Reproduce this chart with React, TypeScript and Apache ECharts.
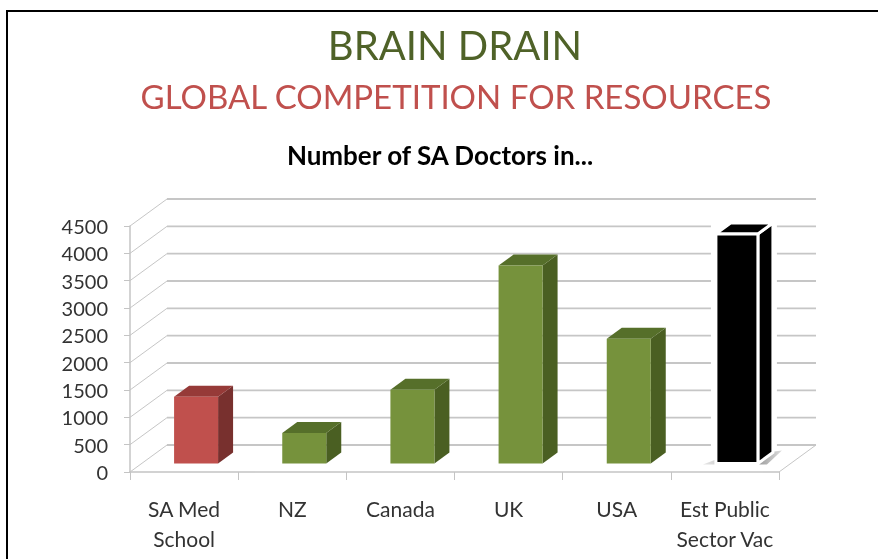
import React, { useEffect, useRef } from "react";
import * as echarts from "echarts";

const categories = ["SA Med\nSchool", "NZ", "Canada", "UK", "USA", "Est Public\nSector Vac"];
const doctorCounts = [1220, 560, 1350, 3620, 2280, 4200];
const faceColors = ["#c0504d", "#76923c", "#76923c", "#76923c", "#76923c", "#000000"];
const topColors = ["#963a38", "#566f2a", "#566f2a", "#566f2a", "#566f2a", "#000000"];
const sideColors = ["#78302e", "#4a5f22", "#4a5f22", "#4a5f22", "#4a5f22", "#000000"];
const gridValues = [0, 500, 1000, 1500, 2000, 2500, 3000, 3500, 4000, 4500];

const FONT = "Lato";
const WALL_DX = 37;
const WALL_DY = -27;
const BAR_HALF = 22;
const BAR_DX = 15;
const BAR_DY = -11;
const BAR_SHIFT_X = 12;
const BAR_SHIFT_Y = -8.5;
const GRID_COLOR = "#c6c6c6";

export default function App() {
  const ref = useRef<HTMLDivElement>(null);
  useEffect(() => {
    const chart = echarts.init(ref.current!, null, { renderer: "svg" });
    chart.setOption({
      animation: false,
      backgroundColor: "#ffffff",
      title: [
        { text: "BRAIN DRAIN", left: 450, top: 20, textAlign: "center", textStyle: { fontFamily: FONT, fontSize: 40, fontWeight: 400, color: "#4f6228" } },
        { text: "GLOBAL COMPETITION FOR RESOURCES", left: 451, top: 74, textAlign: "center", textStyle: { fontFamily: FONT, fontSize: 33, fontWeight: 400, color: "#c0504d" } },
        { text: "Number of SA Doctors in...", left: 435, top: 137, textAlign: "center", textStyle: { fontFamily: FONT, fontSize: 26, fontWeight: 700, color: "#000000" } },
      ],
      grid: { left: 130, right: 99, top: 226, bottom: 87 },
      xAxis: {
        type: "category",
        data: categories,
        axisLine: { show: true, lineStyle: { color: "#c4c4c4", width: 1.5 } },
        axisTick: { show: true, length: 8, alignWithLabel: false, lineStyle: { color: "#c4c4c4", width: 1 } },
        axisLabel: { margin: 21, interval: 0, fontFamily: FONT, fontSize: 21, lineHeight: 30, color: "#333333" },
      },
      yAxis: {
        type: "value",
        min: 0,
        max: 4500,
        interval: 500,
        splitLine: { show: false },
        axisLine: { show: true, lineStyle: { color: "#c4c4c4", width: 1.5 } },
        axisTick: { show: true, length: 6, lineStyle: { color: "#c4c4c4", width: 1 } },
        axisLabel: { margin: 22, fontFamily: FONT, fontSize: 20, color: "#333333", formatter: (v: number) => String(v) },
      },
      series: [
        {
          type: "custom",
          coordinateSystem: "cartesian2d",
          z: 1,
          silent: true,
          encode: { x: 0, y: 1 },
          data: gridValues.map((v) => [0, v]),
          renderItem: (params: any, api: any) => {
            const cs = params.coordSys;
            const y = api.coord([0, api.value(1)])[1];
            const x0 = cs.x;
            const x1 = cs.x + cs.width;
            const children: any[] = [
              { type: "line", shape: { x1: x0, y1: y, x2: x0 + WALL_DX, y2: y + WALL_DY }, style: { stroke: GRID_COLOR, lineWidth: 1 } },
              { type: "line", shape: { x1: x0 + WALL_DX, y1: y + WALL_DY, x2: x1 + WALL_DX, y2: y + WALL_DY }, style: { stroke: GRID_COLOR, lineWidth: 1.8 } },
            ];
            if (api.value(1) === 0) {
              children.push({ type: "line", shape: { x1: x1, y1: y, x2: x1 + WALL_DX, y2: y + WALL_DY }, style: { stroke: GRID_COLOR, lineWidth: 1 } });
            }
            return { type: "group", children };
          },
        },
        {
          type: "custom",
          coordinateSystem: "cartesian2d",
          z: 2,
          silent: true,
          encode: { x: 0, y: 1 },
          data: doctorCounts.map((v, i) => [i, v]),
          renderItem: (params: any, api: any) => {
            const i = api.value(0);
            const top = api.coord([i, api.value(1)]);
            const base = api.coord([i, 0]);
            const isBlack = i === 5;
            const half = isBlack ? BAR_HALF - 1 : BAR_HALF;
            const l = top[0] + BAR_SHIFT_X - half;
            const r = top[0] + BAR_SHIFT_X + half;
            const t = top[1] + BAR_SHIFT_Y;
            const b = base[1] + BAR_SHIFT_Y;
            const stroke = isBlack ? "#ffffff" : undefined;
            const lineWidth = isBlack ? 3 : 0;
            const children: any[] = [];
            if (isBlack) {
              children.push({
                type: "rect",
                shape: { x: l - 5, y: t - 13, width: r - l + BAR_DX + 9, height: b - t + 13 },
                style: { fill: "#ffffff" },
              });
              children.push({
                type: "polygon",
                shape: { points: [[l - 13, b + 1], [l, b - 4], [r + BAR_DX + 9, b - 13], [r + 9, b + 1]] },
                style: {
                  fill: new echarts.graphic.LinearGradient(0, 0, 1, 0, [
                    { offset: 0, color: "#e6e6e6" },
                    { offset: 0.7, color: "#9c9c9c" },
                    { offset: 1, color: "#dcdcdc" },
                  ]),
                },
              });
            }
            children.push({
              type: "polygon",
              shape: { points: [[r, t], [r + BAR_DX, t + BAR_DY], [r + BAR_DX, b + BAR_DY], [r, b]] },
              style: { fill: sideColors[i], stroke, lineWidth },
            });
            children.push({
              type: "polygon",
              shape: { points: [[l, t], [l + BAR_DX, t + BAR_DY], [r + BAR_DX, t + BAR_DY], [r, t]] },
              style: { fill: topColors[i], stroke, lineWidth },
            });
            children.push({
              type: "rect",
              shape: { x: l, y: t, width: r - l, height: b - t },
              style: { fill: faceColors[i], stroke, lineWidth },
            });
            return { type: "group", children };
          },
        },
      ],
      graphic: [
        { type: "line", shape: { x1: 7, y1: 559, x2: 7, y2: 11 }, style: { stroke: "#000000", lineWidth: 2 } },
        { type: "line", shape: { x1: 6, y1: 11, x2: 878, y2: 11 }, style: { stroke: "#000000", lineWidth: 2 } },
      ],
    });
    return () => chart.dispose();
  }, []);
  return (
    <div
      ref={ref}
      style={{ position: "absolute", left: 0, top: 0, width: 878, height: 559, filter: "blur(0.6px)" }}
    />
  );
}
